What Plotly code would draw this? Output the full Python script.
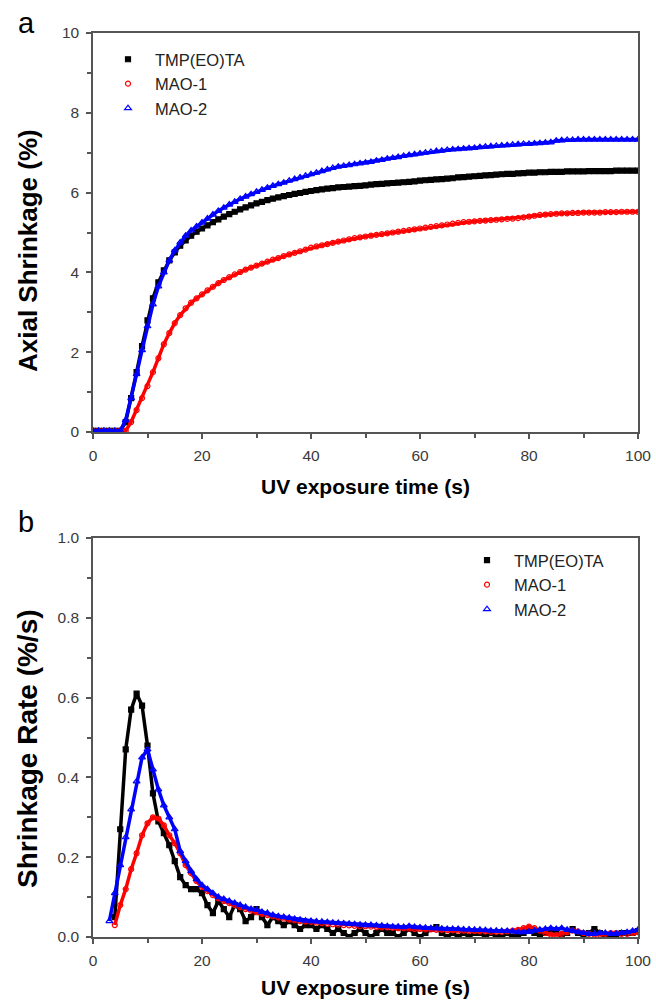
import plotly.graph_objects as go

# ---------------- data ----------------
t_top = list(range(0, 101))

shrink_tmp = [0.03, 0.03, 0.03, 0.03, 0.03, 0.03,
              0.25, 0.85, 1.5, 2.15, 2.8,
              3.35, 3.75, 4.05, 4.3, 4.5,
              4.67, 4.8, 4.92, 5.02, 5.1,
              5.18, 5.26, 5.33, 5.4, 5.46,
              5.52, 5.58, 5.63, 5.68, 5.73,
              5.77, 5.81, 5.85, 5.88, 5.91,
              5.94, 5.97, 5.99, 6.02, 6.04,
              6.06, 6.08, 6.1, 6.11, 6.13,
              6.14, 6.15, 6.16, 6.17, 6.18,
              6.2, 6.21, 6.22, 6.23, 6.24,
              6.25, 6.26, 6.27, 6.28, 6.3,
              6.31, 6.32, 6.33, 6.34, 6.35,
              6.36, 6.38, 6.39, 6.4, 6.41,
              6.42, 6.43, 6.44, 6.45, 6.46,
              6.47, 6.47, 6.48, 6.49, 6.5,
              6.5, 6.51, 6.51, 6.52, 6.52,
              6.52, 6.53, 6.53, 6.53, 6.53,
              6.54, 6.54, 6.54, 6.54, 6.54,
              6.55, 6.55, 6.55, 6.55, 6.55]

shrink_mao1 = [0.03, 0.03, 0.03, 0.03, 0.03, 0.03, 0.03,
               0.25, 0.55, 0.85, 1.15,
               1.5, 1.85, 2.2, 2.48, 2.73,
               2.93, 3.1, 3.24, 3.35, 3.45,
               3.55, 3.64, 3.73, 3.81, 3.88,
               3.95, 4.01, 4.07, 4.12, 4.17,
               4.22, 4.27, 4.32, 4.36, 4.41,
               4.45, 4.49, 4.53, 4.57, 4.62,
               4.65, 4.68, 4.71, 4.74, 4.77,
               4.8, 4.83, 4.86, 4.88, 4.9,
               4.92, 4.94, 4.96, 4.98, 5.0,
               5.02, 5.04, 5.06, 5.08, 5.1,
               5.12, 5.14, 5.16, 5.18, 5.2,
               5.22, 5.24, 5.26, 5.27, 5.28,
               5.29, 5.3, 5.31, 5.32, 5.33,
               5.34, 5.35, 5.36, 5.38, 5.4,
               5.42, 5.44, 5.45, 5.46, 5.47,
               5.48, 5.48, 5.49, 5.49, 5.5,
               5.5, 5.5, 5.5, 5.51, 5.51,
               5.51, 5.52, 5.52, 5.52, 5.52]

shrink_mao2 = [0.03, 0.03, 0.03, 0.03, 0.03, 0.03,
               0.3, 0.85, 1.45, 2.05, 2.65,
               3.2, 3.65, 4.0, 4.3, 4.55,
               4.75, 4.92, 5.05, 5.15, 5.25,
               5.35, 5.45, 5.54, 5.62, 5.7,
               5.77, 5.84, 5.9, 5.96, 6.02,
               6.07, 6.12, 6.17, 6.21, 6.25,
               6.3, 6.34, 6.38, 6.42, 6.46,
               6.5, 6.54, 6.58, 6.62, 6.65,
               6.67, 6.69, 6.71, 6.73, 6.75,
               6.77, 6.8, 6.82, 6.85, 6.87,
               6.89, 6.92, 6.94, 6.96, 6.98,
               7.0, 7.02, 7.04, 7.05, 7.07,
               7.08, 7.09, 7.1, 7.11, 7.12,
               7.14, 7.15, 7.16, 7.17, 7.18,
               7.19, 7.2, 7.21, 7.22, 7.22,
               7.23, 7.24, 7.25, 7.26, 7.3,
               7.31, 7.32, 7.32, 7.33, 7.33,
               7.33, 7.33, 7.33, 7.33, 7.33,
               7.33, 7.33, 7.33, 7.33, 7.33]

t_rate = list(range(0, 101))

rate_tmp = [None, None, None, None,
            0.05, 0.27, 0.47, 0.57, 0.61, 0.58, 0.48,
            0.36, 0.29, 0.26, 0.23, 0.19,
            0.15, 0.13, 0.12, 0.12, 0.11,
            0.08, 0.06, 0.09, 0.07, 0.05,
            0.08, 0.07, 0.04, 0.05, 0.07,
            0.05, 0.03, 0.05, 0.04, 0.03,
            0.04, 0.03, 0.02, 0.03, 0.03,
            0.02, 0.03, 0.02, 0.01, 0.02,
            0.01, 0.0, 0.01, 0.02, 0.01,
            0.0, 0.01, 0.02, 0.01, 0.01,
            0.0, 0.01, 0.02, 0.01, 0.0,
            0.01, 0.02, 0.025, 0.01, 0.0,
            0.01, 0.0, 0.01, 0.0, 0.01,
            0.01, 0.0, 0.01, 0.0, 0.0,
            0.01, 0.0, 0.005, 0.01, 0.015,
            0.01, 0.005, 0.01, 0.015, 0.01,
            0.005, 0.01, 0.02, 0.01, 0.005,
            0.01, 0.02, 0.01, 0.005, 0.0,
            0.005, 0.01, 0.01, 0.01, 0.015]

rate_mao1 = [None, None, None, None,
             0.03, 0.08, 0.12, 0.17, 0.21, 0.255, 0.285,
             0.3, 0.297, 0.28, 0.255, 0.235,
             0.21, 0.18, 0.16, 0.14, 0.125,
             0.115, 0.105, 0.097, 0.09, 0.085,
             0.08, 0.075, 0.07, 0.066, 0.062,
             0.058, 0.055, 0.052, 0.049, 0.046,
             0.044, 0.042, 0.04, 0.039, 0.038,
             0.036, 0.035, 0.033, 0.032, 0.031,
             0.03, 0.029, 0.028, 0.027, 0.027,
             0.026, 0.025, 0.024, 0.024, 0.023,
             0.022, 0.022, 0.021, 0.02, 0.02,
             0.019, 0.019, 0.018, 0.018, 0.017,
             0.017, 0.016, 0.016, 0.015, 0.015,
             0.014, 0.014, 0.013, 0.013, 0.013,
             0.014, 0.016, 0.018, 0.022, 0.026,
             0.022, 0.016, 0.01, 0.006, 0.005,
             0.008, 0.012, 0.016, 0.014, 0.01,
             0.008, 0.006, 0.006, 0.008, 0.01,
             0.01, 0.008, 0.008, 0.01, 0.012]

rate_mao2 = [None, None, None,
             0.04, 0.11, 0.18, 0.25, 0.32, 0.39, 0.45, 0.47,
             0.42, 0.37, 0.33, 0.3, 0.27,
             0.215, 0.19, 0.165, 0.145, 0.13,
             0.12, 0.11, 0.1, 0.095, 0.09,
             0.085, 0.08, 0.075, 0.07, 0.068,
             0.063, 0.06, 0.055, 0.052, 0.05,
             0.048, 0.045, 0.043, 0.041, 0.04,
             0.039, 0.038, 0.037, 0.036, 0.035,
             0.034, 0.033, 0.032, 0.031, 0.03,
             0.03, 0.029, 0.028, 0.027, 0.026,
             0.026, 0.025, 0.027, 0.025, 0.024,
             0.023, 0.022, 0.022, 0.021, 0.02,
             0.02, 0.02, 0.019, 0.019, 0.018,
             0.018, 0.017, 0.016, 0.016, 0.015,
             0.015, 0.014, 0.012, 0.012, 0.013,
             0.016, 0.018, 0.02, 0.022, 0.02,
             0.022, 0.018, 0.015, 0.012, 0.01,
             0.008, 0.008, 0.01, 0.01, 0.008,
             0.008, 0.01, 0.012, 0.015, 0.018]

series_names = ["TMP(EO)TA", "MAO-1", "MAO-2"]
x_ticks = [0, 20, 40, 60, 80, 100]
y_ticks_top = [0, 2, 4, 6, 8, 10]
y_ticks_bot = [0.0, 0.2, 0.4, 0.6, 0.8, 1.0]

# ---------------- styles ----------------
W, H = 656, 1003
FONT = "Liberation Sans, Arial, sans-serif"
colors = ["#000000", "#ff0000", "#0000ff"]
symbols = ["square", "circle-open", "triangle-up-open"]
msizes = [5, 5, 6]

fig = go.Figure()

def add_series(x, y, xa, ya, legend_id, idx):
    fig.add_trace(go.Scatter(
        x=x, y=y, mode="lines", xaxis=xa, yaxis=ya,
        line=dict(color=colors[idx], width=3.5),
        showlegend=False, hoverinfo="skip", connectgaps=False))
    fig.add_trace(go.Scatter(
        x=x, y=y, mode="markers", xaxis=xa, yaxis=ya,
        name=series_names[idx], legend=legend_id,
        marker=dict(symbol=symbols[idx], size=msizes[idx], color=colors[idx],
                    line=dict(color=colors[idx], width=1.2))))

top_sets = [shrink_tmp, shrink_mao1, shrink_mao2]
bot_sets = [rate_tmp, rate_mao1, rate_mao2]
for i in range(3):
    add_series(t_top, top_sets[i], "x", "y", "legend", i)
for i in range(3):
    add_series(t_rate, bot_sets[i], "x2", "y2", "legend2", i)

xdom = [93 / W, 638 / W]
ydom_top = [1 - 432 / H, 1 - 33 / H]
ydom_bot = [1 - 937 / H, 1 - 538 / H]

axis_common = dict(
    showline=True, linecolor="#555555", linewidth=1.5, mirror=True,
    ticks="outside", ticklen=5, tickwidth=1.5, tickcolor="#555555",
    showgrid=False, zeroline=False, automargin=False,
    ticklabelstandoff=4,
    tickfont=dict(family=FONT, size=15.5, color="#3a3a3a"),
)
minor_common = dict(ticks="outside", ticklen=4, tickwidth=1.5, tickcolor="#555555", tick0=0)

fig.update_layout(
    width=W, height=H,
    margin=dict(l=0, r=0, t=0, b=0),
    paper_bgcolor="white", plot_bgcolor="white",
    font=dict(family=FONT),
    xaxis=dict(domain=xdom, anchor="y", range=[0, 100], tickvals=x_ticks,
               minor=dict(dtick=10, **minor_common), **axis_common),
    yaxis=dict(domain=ydom_top, anchor="x", range=[0, 10], tickvals=y_ticks_top,
               minor=dict(dtick=1, **minor_common), **axis_common),
    xaxis2=dict(domain=xdom, anchor="y2", range=[0, 100], tickvals=x_ticks,
                minor=dict(dtick=10, **minor_common), **axis_common),
    yaxis2=dict(domain=ydom_bot, anchor="x2", range=[0, 1.0], tickvals=y_ticks_bot,
                tickformat=".1f", minor=dict(dtick=0.1, **minor_common), **axis_common),
    legend=dict(x=101 / W, y=1 - 42 / H, xanchor="left", yanchor="top",
                bgcolor="rgba(0,0,0,0)", itemwidth=44,
                font=dict(family=FONT, size=16.5, color="#222222"),
                tracegroupgap=0),
    legend2=dict(x=460 / W, y=1 - 543 / H, xanchor="left", yanchor="top",
                 bgcolor="rgba(0,0,0,0)", itemwidth=44,
                 font=dict(family=FONT, size=16.5, color="#222222"),
                 tracegroupgap=0),
    showlegend=True,
)

ann = []
def txt(text, x, y, size, bold=False, angle=0, xanchor="center"):
    ann.append(dict(text=f"<b>{text}</b>" if bold else text,
                    x=x / W, y=1 - y / H, xref="paper", yref="paper",
                    xanchor=xanchor, yanchor="middle", showarrow=False,
                    textangle=angle,
                    font=dict(family=FONT, size=size, color="#000000")))

txt("a", 16, 23, 29, xanchor="left")
txt("b", 16, 522, 29, xanchor="left")
txt("UV exposure time (s)", 365, 486, 21, bold=True)
txt("UV exposure time (s)", 365, 987, 21, bold=True)
txt("Axial Shrinkage (%)", 28, 251, 26, bold=True, angle=-90)
txt("Shrinkage Rate (%/s)", 27, 749, 28, bold=True, angle=-90)
fig.update_layout(annotations=ann)

fig.write_html("out.html",
               config={"displayModeBar": False},
               post_script="document.body.style.margin='0';document.body.style.padding='0';"
                           "document.documentElement.style.overflow='hidden';")
